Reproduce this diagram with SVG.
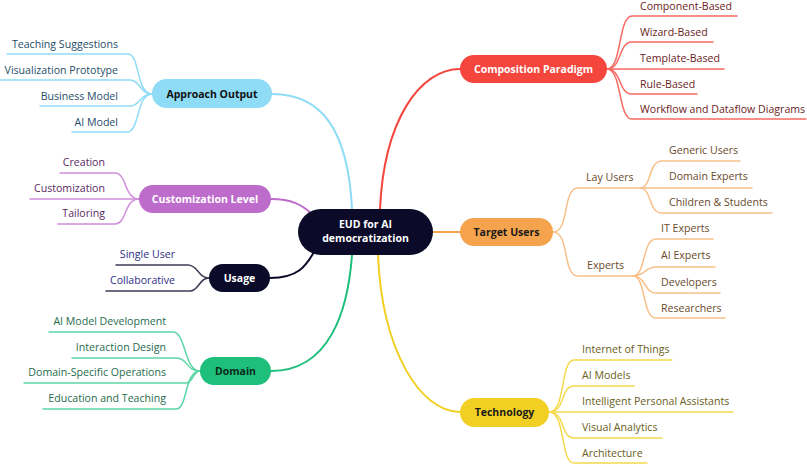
<svg xmlns="http://www.w3.org/2000/svg" width="807" height="468" viewBox="0 0 807 468">
<style>
text{font-family:"Open Sans","Liberation Sans",sans-serif;}
.leaf{font-size:10.6px;}
.l{text-anchor:end;}
.node{font-size:10.5px;font-weight:bold;text-anchor:middle;}
.e{fill:none;stroke-width:2;stroke-linecap:round;}
.le{fill:none;stroke-width:1.5;stroke-linecap:round;}
</style>
<rect width="807" height="468" fill="#ffffff"/>
<g id="connectors">
  <path class="e" stroke="#8fdcf7" d="M272,94 C322,94 348,130 352,209"/>
  <path class="e" stroke="#f5463e" d="M380,209 C384,120 420,69 460,69"/>
  <path class="e" stroke="#bd6ccb" d="M271,199 C292,199 302,205 312,214"/>
  <path class="e" stroke="#0b0a29" d="M270,278 C298,278 306,266 314,252"/>
  <path class="e" stroke="#1dbf7b" d="M271,371 C330,371 348,310 352,255"/>
  <path class="e" stroke="#f2d023" d="M378,255 C382,350 420,412 460,412"/>
  <path class="e" stroke="#f5a34c" d="M433,232 H460"/>
  <g stroke="#8fdcf7">
    <path class="le" d="M7,54 H128 C140,54 136,94 152,94"/>
    <path class="le" d="M0,80 H130 C140,80 140,94 152,94"/>
    <path class="le" d="M40,106 H130 C140,106 140,94 152,94"/>
    <path class="le" d="M72,132 H127 C140,132 136,94 152,94"/>
  </g>
  <g stroke="#cf8fdb">
    <path class="le" d="M60,173 H115 C127,173 124,199 139,199"/>
    <path class="le" d="M30,199 H139"/>
    <path class="le" d="M58,224 H115 C127,224 124,199 139,199"/>
  </g>
  <g stroke="#3d3c55">
    <path class="le" d="M116,265 H188 C198,265 198,278 209,278"/>
    <path class="le" d="M106,291 H190 C199,291 199,278 209,278"/>
  </g>
  <g stroke="#5dd6a6">
    <path class="le" d="M49,332 H173 C186,332 184,371 200,371"/>
    <path class="le" d="M72,358 H176 C188,358 186,371 200,371"/>
    <path class="le" d="M24,383 H186 C193,383 193,371 200,371"/>
    <path class="le" d="M43,409 H176 C188,409 184,371 200,371"/>
  </g>
  <g stroke="#f76a63">
    <path class="le" d="M607,69 C622,69 618,16 632,16 H737"/>
    <path class="le" d="M607,69 C622,69 618,42 632,42 H713"/>
    <path class="le" d="M607,69 H724"/>
    <path class="le" d="M607,69 C622,69 618,94 632,94 H697"/>
    <path class="le" d="M607,69 C622,69 618,119 632,119 H806"/>
  </g>
  <g stroke="#f8c08a">
    <path class="le" d="M553,232 C570,232 562,188 578,188 H640"/>
    <path class="le" d="M553,232 C570,232 562,276 578,276 H633"/>
    <path class="le" d="M640,188 C652,188 648,161 662,161 H740"/>
    <path class="le" d="M640,188 H752"/>
    <path class="le" d="M640,188 C652,188 648,213 662,213 H772"/>
    <path class="le" d="M633,276 C646,276 642,239 656,239 H713"/>
    <path class="le" d="M633,276 C646,276 644,267 656,267 H715"/>
    <path class="le" d="M633,276 C646,276 644,293 656,293 H720"/>
    <path class="le" d="M633,276 C646,276 642,318 656,318 H725"/>
  </g>
  <g stroke="#f5d94f">
    <path class="le" d="M549,412 C566,412 560,360 574,360 H672"/>
    <path class="le" d="M549,412 C566,412 560,386 574,386 H634"/>
    <path class="le" d="M549,412 H733"/>
    <path class="le" d="M549,412 C566,412 560,438 574,438 H662"/>
    <path class="le" d="M549,412 C566,412 560,463 574,463 H647"/>
  </g>
</g>
<g id="center">
  <rect x="298" y="209" width="135" height="46" rx="23" fill="#0b0a29"/>
  <text class="node" x="365.5" y="228" fill="#ffffff">EUD for AI</text>
  <text class="node" x="365.5" y="242" fill="#ffffff">democratization</text>
</g>
<g id="approach-output">
  <rect x="152" y="79" width="120" height="29" rx="14.5" fill="#8fdcf7"/>
  <text class="node" x="212" y="97.5" fill="#111111">Approach Output</text>
  <g fill="#1f4e6b" class="leaf l">
    <text x="118" y="48">Teaching Suggestions</text>
    <text x="118" y="74">Visualization Prototype</text>
    <text x="118" y="100">Business Model</text>
    <text x="118" y="126">AI Model</text>
  </g>
</g>
<g id="customization-level">
  <rect x="139" y="185" width="132" height="28" rx="14" fill="#bd6ccb"/>
  <text class="node" x="205" y="202.5" fill="#ffffff">Customization Level</text>
  <g fill="#5b2a5f" class="leaf l">
    <text x="105" y="166">Creation</text>
    <text x="105" y="192">Customization</text>
    <text x="105" y="217">Tailoring</text>
  </g>
</g>
<g id="usage">
  <rect x="209" y="264" width="61" height="28" rx="14" fill="#0b0a29"/>
  <text class="node" x="239.5" y="281.5" fill="#ffffff">Usage</text>
  <g fill="#2f2e86" class="leaf l">
    <text x="175" y="258">Single User</text>
    <text x="175" y="284">Collaborative</text>
  </g>
</g>
<g id="domain">
  <rect x="200" y="357" width="71" height="28" rx="14" fill="#1dbf7b"/>
  <text class="node" x="235.5" y="374.5" fill="#0b2a1a">Domain</text>
  <g fill="#1f6b4d" class="leaf l">
    <text x="166" y="325">AI Model Development</text>
    <text x="166" y="351">Interaction Design</text>
    <text x="166" y="376">Domain-Specific Operations</text>
    <text x="166" y="402">Education and Teaching</text>
  </g>
</g>
<g id="composition-paradigm">
  <rect x="460" y="55" width="147" height="28" rx="14" fill="#f5463e"/>
  <text class="node" x="533.5" y="72.5" fill="#ffffff">Composition Paradigm</text>
  <g fill="#6b1d1d" class="leaf">
    <text x="640" y="9.5">Component-Based</text>
    <text x="640" y="35.5">Wizard-Based</text>
    <text x="640" y="61.5">Template-Based</text>
    <text x="640" y="87.5">Rule-Based</text>
    <text x="640" y="112.5">Workflow and Dataflow Diagrams</text>
  </g>
</g>
<g id="target-users">
  <rect x="460" y="218" width="93" height="28" rx="14" fill="#f5a34c"/>
  <text class="node" x="506.5" y="235.5" fill="#1a1a1a">Target Users</text>
  <g fill="#6a4a2a" class="leaf">
    <text x="586" y="181">Lay Users</text>
    <text x="587" y="269">Experts</text>
    <text x="669" y="154">Generic Users</text>
    <text x="669" y="180">Domain Experts</text>
    <text x="669" y="206">Children &amp; Students</text>
    <text x="661" y="232">IT Experts</text>
    <text x="661" y="259">AI Experts</text>
    <text x="661" y="286">Developers</text>
    <text x="661" y="312">Researchers</text>
  </g>
</g>
<g id="technology">
  <rect x="460" y="398" width="89" height="29" rx="14.5" fill="#f2d023"/>
  <text class="node" x="504.5" y="416" fill="#1a1a1a">Technology</text>
  <g fill="#6a6022" class="leaf">
    <text x="582" y="353">Internet of Things</text>
    <text x="582" y="379">AI Models</text>
    <text x="582" y="405">Intelligent Personal Assistants</text>
    <text x="582" y="431">Visual Analytics</text>
    <text x="582" y="457">Architecture</text>
  </g>
</g>
</svg>
